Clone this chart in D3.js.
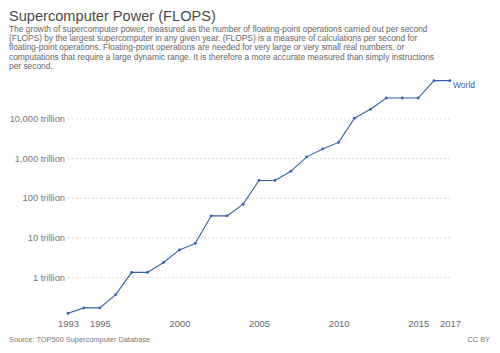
<!DOCTYPE html>
<meta charset="utf-8">
<script src="https://cdn.jsdelivr.net/npm/d3@7/dist/d3.min.js"></script>
<html>
<head>
<style>
body { margin: 0; background: #fff; }
text { font-family: "Liberation Sans", Arial, sans-serif; }
</style>
</head>
<body>
<div id="chart"></div>
<script>
// data: largest supercomputer Rmax per year, in trillion FLOPS
var years = [1993, 1994, 1995, 1996, 1997, 1998, 1999, 2000, 2001, 2002, 2003, 2004, 2005,
             2006, 2007, 2008, 2009, 2010, 2011, 2012, 2013, 2014, 2015, 2016, 2017];
var flops = [0.124, 0.17, 0.17, 0.368, 1.338, 1.338, 2.379, 4.938, 7.226, 35.86, 35.86, 70.72, 280.6,
             280.6, 478.2, 1105, 1759, 2566, 10510, 17590, 33860, 33860, 33860, 93010, 93010];
var yTicks = [1, 10, 100, 1000, 10000];
var yTickLabels = ["1 trillion", "10 trillion", "100 trillion", "1,000 trillion", "10,000 trillion"];
var xTicks = [1993, 1995, 2000, 2005, 2010, 2015, 2017];

var subtitle = [
  "The growth of supercomputer power, measured as the number of floating-point operations carried out per second",
  "(FLOPS) by the largest supercomputer in any given year. (FLOPS) is a measure of calculations per second for",
  "floating-point operations. Floating-point operations are needed for very large or very small real numbers, or",
  "computations that require a large dynamic range. It is therefore a more accurate measured than simply instructions",
  "per second."
];

var width = 500, height = 353;
var blue = "#3360a9";

var svg = d3.select("#chart").append("svg")
  .attr("width", width)
  .attr("height", height);

// title + subtitle
svg.append("text")
  .attr("x", 9).attr("y", 21)
  .style("font-size", "14.6px")
  .style("fill", "#4a4a4a")
  .text("Supercomputer Power (FLOPS)");

svg.append("g").selectAll("text")
  .data(subtitle)
  .join("text")
    .attr("x", 9)
    .attr("y", function(d, i) { return 32 + i * 9.2; })
    .style("font-size", "8.4px")
    .style("fill", "#666")
    .text(function(d) { return d; });

var x = d3.scaleLinear()
  .domain([1993, 2017])
  .range([68, 450]);

var y = d3.scaleLog()
  .domain([0.1, 100000])
  .range([317, 79.4]);

// gridlines
svg.append("g").selectAll("line")
  .data(yTicks)
  .join("line")
    .attr("x1", 68).attr("x2", 450)
    .attr("y1", function(d) { return y(d); })
    .attr("y2", function(d) { return y(d); })
    .attr("stroke", "#ddd")
    .attr("stroke-width", 1)
    .attr("stroke-dasharray", "2,2");

// y labels
svg.append("g").selectAll("text")
  .data(yTicks)
  .join("text")
    .attr("x", 65)
    .attr("y", function(d) { return y(d); })
    .attr("dy", "0.35em")
    .attr("text-anchor", "end")
    .style("font-size", "9.3px")
    .style("fill", "#777")
    .text(function(d, i) { return yTickLabels[i]; });

// x axis labels
var xAxis = d3.axisBottom(x)
  .tickValues(xTicks)
  .tickFormat(d3.format("d"))
  .tickSize(0)
  .tickPadding(0);

svg.append("g")
  .attr("transform", "translate(0,320)")
  .call(xAxis)
  .call(function(g) { g.select(".domain").remove(); })
  .selectAll("text")
    .style("font-family", "'Liberation Sans', Arial, sans-serif")
    .style("font-size", "9.4px")
    .style("fill", "#666");

// line
var pts = years.map(function(d, i) { return {x: d, y: flops[i]}; });

svg.append("path")
  .datum(pts)
  .attr("fill", "none")
  .attr("stroke", blue)
  .attr("stroke-width", 1.1)
  .attr("d", d3.line()
    .x(function(d) { return x(d.x); })
    .y(function(d) { return y(d.y); }));

svg.append("g").selectAll("circle")
  .data(pts)
  .join("circle")
    .attr("cx", function(d) { return x(d.x); })
    .attr("cy", function(d) { return y(d.y); })
    .attr("r", 1.4)
    .attr("fill", blue);

// series label
var last = pts[pts.length - 1];
svg.append("text")
  .attr("x", x(last.x) + 3)
  .attr("y", y(last.y) + 4)
  .attr("dy", "0.35em")
  .style("font-size", "8.5px")
  .style("fill", blue)
  .text("World");

// footer
svg.append("text")
  .attr("x", 9).attr("y", 342)
  .style("font-size", "7.4px")
  .style("fill", "#777")
  .text("Source: TOP500 Supercomputer Database");

svg.append("text")
  .attr("x", 490).attr("y", 342)
  .attr("text-anchor", "end")
  .style("font-size", "7.4px")
  .style("fill", "#777")
  .text("CC BY");
</script>
</body>
</html>
